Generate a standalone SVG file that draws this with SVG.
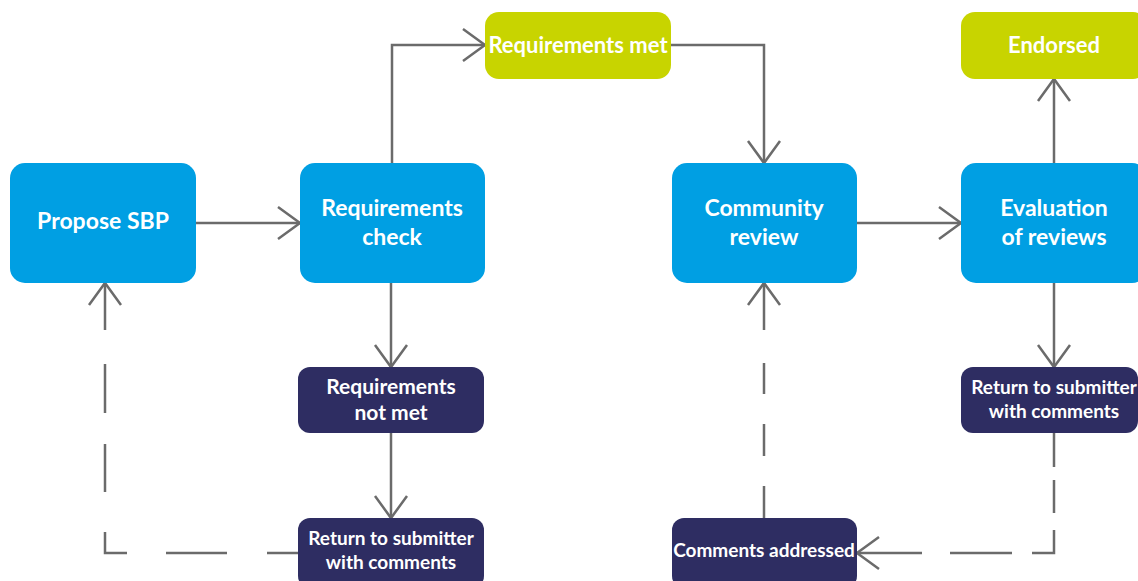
<svg xmlns="http://www.w3.org/2000/svg" width="1138" height="581" viewBox="0 0 1138 581">
<style>
.blue{fill:#009FE3}
.lime{fill:#C8D400}
.navy{fill:#2E2D62}
.t{font-family:Lato,"Open Sans","Liberation Sans",sans-serif;font-weight:bold;fill:#fff;text-anchor:middle}
.big{font-size:23px}
.mid{font-size:22px}
.md2{font-size:21px}
.sm{font-size:19px}
.c{fill:none;stroke:#6B6B6B;stroke-width:2.5}
</style>
<defs>
<marker id="ah" markerUnits="userSpaceOnUse" markerWidth="40" markerHeight="40" viewBox="-30 -20 40 40" refX="0" refY="0" orient="auto">
<path d="M-22,-16 L0,0 L-22,16" fill="none" stroke="#6B6B6B" stroke-width="2.5"/>
</marker>
</defs>
<rect width="1138" height="581" fill="#fff"/>
<g id="connectors">
<path class="c" d="M196,223 L300,223" marker-end="url(#ah)"/>
<path class="c" d="M392,163 L392,45 L485,45" marker-end="url(#ah)"/>
<path class="c" d="M671,45 L764,45 L764,163" marker-end="url(#ah)"/>
<path class="c" d="M857,223 L961,223" marker-end="url(#ah)"/>
<path class="c" d="M1054,163 L1054,79" marker-end="url(#ah)"/>
<path class="c" d="M391,283 L391,367" marker-end="url(#ah)"/>
<path class="c" d="M391,433 L391,518" marker-end="url(#ah)"/>
<path class="c" d="M1054,283 L1054,367" marker-end="url(#ah)"/>
<path class="c" d="M298,553 L267,553 M227,553 L166,553 M127,553 L105,553 L105,532 M105,492 L105,444 M105,413 L105,364 M105,330 L105,283" marker-end="url(#ah)"/>
<path class="c" d="M1054,433 L1054,467 M1054,480 L1054,513 M1054,530 L1054,553 L1032,553 M1012,553 L950,553 M922,553 L857,553" marker-end="url(#ah)"/>
<path class="c" d="M764,518 L764,486 M764,456 L764,424 M764,394 L764,363 M764,330 L764,283" marker-end="url(#ah)"/>
</g>
<g id="propose">
<rect class="blue" x="10" y="163" width="186" height="120" rx="15"/>
<text class="t big" x="103" y="229">Propose SBP</text>
</g>
<g id="reqcheck">
<rect class="blue" x="300" y="163" width="185" height="120" rx="15"/>
<text class="t big" x="392" y="216">Requirements</text>
<text class="t big" x="392" y="245">check</text>
</g>
<g id="reqmet">
<rect class="lime" x="485" y="12" width="186" height="67" rx="14"/>
<text class="t mid" x="578" y="53">Requirements met</text>
</g>
<g id="community">
<rect class="blue" x="672" y="163" width="185" height="120" rx="15"/>
<text class="t big" x="764" y="216">Community</text>
<text class="t big" x="764" y="245">review</text>
</g>
<g id="evaluation">
<rect class="blue" x="961" y="163" width="186" height="120" rx="15"/>
<text class="t big" x="1054" y="216">Evaluation</text>
<text class="t big" x="1054" y="245">of reviews</text>
</g>
<g id="endorsed">
<rect class="lime" x="961" y="12" width="186" height="67" rx="14"/>
<text class="t mid" x="1054" y="53">Endorsed</text>
</g>
<g id="reqnotmet">
<rect class="navy" x="298" y="367" width="186" height="66" rx="12"/>
<text class="t md2" x="391" y="394">Requirements</text>
<text class="t md2" x="391" y="420">not met</text>
</g>
<g id="return1">
<rect class="navy" x="298" y="518" width="186" height="70" rx="12"/>
<text class="t sm" x="391" y="545">Return to submitter</text>
<text class="t sm" x="391" y="569">with comments</text>
</g>
<g id="addressed">
<rect class="navy" x="672" y="518" width="185" height="70" rx="12"/>
<text class="t sm" x="764" y="557">Comments addressed</text>
</g>
<g id="return2">
<rect class="navy" x="961" y="367" width="177" height="66" rx="12"/>
<text class="t sm" x="1054" y="394">Return to submitter</text>
<text class="t sm" x="1054" y="418">with comments</text>
</g>
</svg>
